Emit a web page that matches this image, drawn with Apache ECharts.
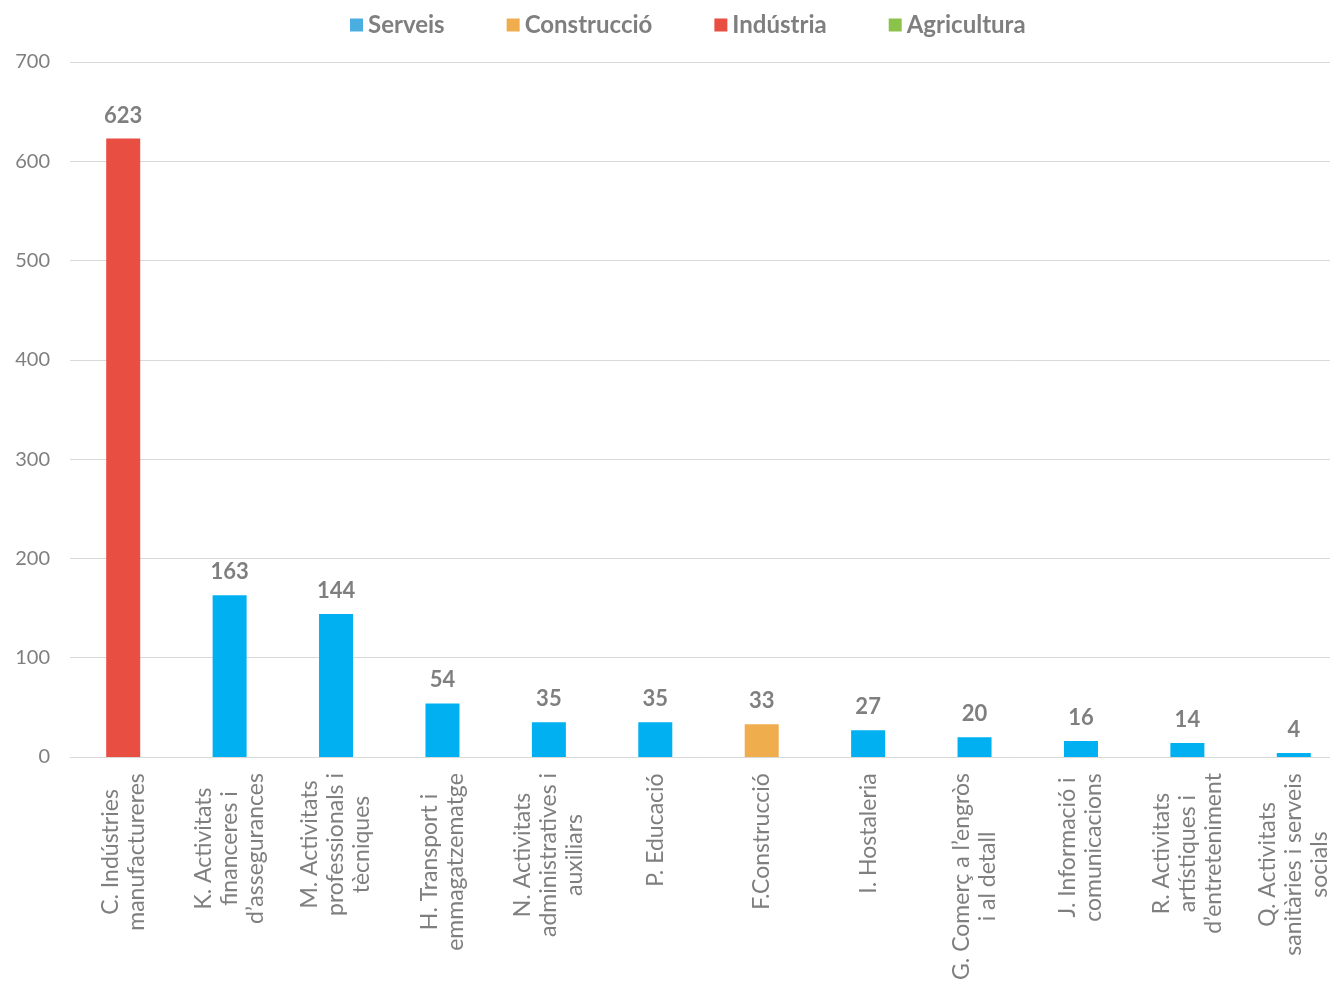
<!DOCTYPE html>
<html><head><meta charset="utf-8">
<script src="https://cdn.jsdelivr.net/npm/echarts@6/dist/echarts.min.js"></script>
<style>html,body{margin:0;padding:0;background:#fff;overflow:hidden}#chart{width:1330px;height:986px}</style>
</head><body><div id="chart"></div>
<script>
var categories = ['C. Indústries\nmanufactureres', 'K. Activitats\nfinanceres i\nd’assegurances', 'M. Activitats\nprofessionals i\ntècniques',
    'H. Transport i\nemmagatzematge', 'N. Activitats\nadministratives i\nauxiliars', 'P. Educació', 'F.Construcció', 'I. Hostaleria',
    'G. Comerç a l’engròs\ni al detall', 'J. Informació i\ncomunicacions', 'R. Activitats\nartístiques i\nd’entreteniment',
    'Q. Activitats\nsanitàries i serveis\nsocials'];
var values = [623, 163, 144, 54, 35, 35, 33, 27, 20, 16, 14, 4];
var sectors = ['Indústria', 'Serveis', 'Serveis', 'Serveis', 'Serveis', 'Serveis', 'Construcció', 'Serveis', 'Serveis', 'Serveis', 'Serveis', 'Serveis'];
var legendNames = ['Serveis', 'Construcció', 'Indústria', 'Agricultura'];
var barColors = { 'Serveis': '#00b0f0', 'Construcció': '#f0ad4e', 'Indústria': '#e84e42', 'Agricultura': '#8bc34a' };
var legendColors = { 'Serveis': '#4aaee0', 'Construcció': '#f0ad4e', 'Indústria': '#e84e42', 'Agricultura': '#8bc34a' };

var series = [];
for (var s = 0; s < legendNames.length; s++) {
    var name = legendNames[s];
    var data = [];
    for (var i = 0; i < values.length; i++) {
        data.push(sectors[i] === name ? values[i] : '-');
    }
    series.push({
        type: 'bar',
        name: name,
        stack: 'all',
        barWidth: 34,
        itemStyle: { color: barColors[name] },
        label: { show: true, position: 'top', distance: 12, color: '#7f7f7f', fontSize: 22, fontWeight: 'bold', fontFamily: 'Lato' },
        data: data
    });
}
var legends = legendNames.map(function(n) { return { name: n, itemStyle: { color: legendColors[n] } }; });

// 每个类目标签行居中：按最长行宽度设置 rich 样式
var ctx = document.createElement('canvas').getContext('2d');
ctx.font = '23px Lato';
var rich = {};
for (var i = 0; i < categories.length; i++) {
    var w = 0;
    categories[i].split('\n').forEach(function(l) { w = Math.max(w, ctx.measureText(l).width); });
    rich['r' + i] = { width: Math.ceil(w), align: 'center', fontSize: 23, lineHeight: 26, color: '#7f7f7f', fontFamily: 'Lato' };
}

var echart = echarts.init(document.getElementById('chart'));
echart.setOption({
    animation: false,
    textStyle: { fontFamily: 'Lato' },
    legend: {
        data: legends, top: 8, left: 345, icon: 'rect', itemWidth: 13, itemHeight: 13, itemGap: 62,
        textStyle: { color: '#7f7f7f', fontSize: 24, fontWeight: 'bold', fontFamily: 'Lato' }
    },
    grid: { left: 70, width: 1277, top: 62, bottom: 229, outerBoundsMode: 'none' },
    xAxis: {
        type: 'category', data: categories,
        axisTick: { show: false },
        axisLine: { lineStyle: { color: '#d9d9d9' } },
        axisLabel: {
            rotate: 90, interval: 0, color: '#7f7f7f', fontSize: 23, lineHeight: 26, margin: 16, fontFamily: 'Lato',
            formatter: function(value, index) {
                return value.split('\n').map(function(l) { return '{r' + index + '|' + l + '}'; }).join('\n');
            },
            rich: rich
        }
    },
    yAxis: {
        type: 'value', min: 0, max: 700, interval: 100,
        axisLine: { show: false }, axisTick: { show: false },
        splitLine: { lineStyle: { color: '#d9d9d9' } },
        axisLabel: { color: '#7f7f7f', fontSize: 20, margin: 20, fontFamily: 'Lato' }
    },
    series: series
});
</script></body></html>
